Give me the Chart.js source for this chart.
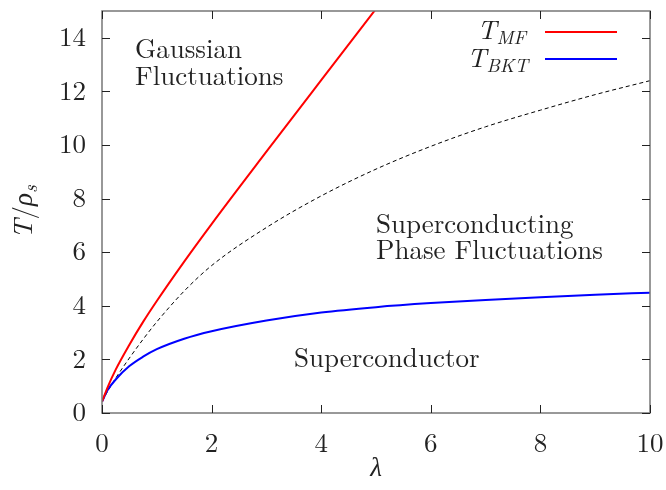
<!DOCTYPE html>
<html>
<head>
<meta charset="utf-8">
<script src="https://cdn.jsdelivr.net/npm/chart.js@4/dist/chart.umd.min.js"></script>
<style>
  html, body { margin: 0; padding: 0; background: #fff; }
  #wrap { width: 666px; height: 490px; }
</style>
</head>
<body>
<div id="wrap"><canvas id="chart" width="666" height="490"></canvas></div>
<script>
// values
const lambdaVals = [0, 0.1, 0.25, 0.5, 0.75, 1, 1.5, 2, 3, 4, 5, 6, 7, 8, 9, 10];
const tMF = [0.42, 0.95, 1.62, 2.55, 3.40, 4.18, 5.65, 7.05, 9.75, 12.42, 15.08, null, null, null, null, null];
const tBKT = [0.42, 0.85, 1.25, 1.75, 2.10, 2.38, 2.77, 3.05, 3.45, 3.75, 3.95, 4.10, 4.22, 4.32, 4.41, 4.49];
const tCross = [0.42, 0.80, 1.30, 2.05, 2.75, 3.40, 4.55, 5.50, 6.92, 8.10, 9.10, 9.95, 10.68, 11.30, 11.88, 12.40];
const xTicks = [0, 2, 4, 6, 8, 10];
const yTicks = [0, 2, 4, 6, 8, 10, 12, 14];

const SERIF = '"Latin Modern Roman", "Liberation Serif", serif';

const pts = ys => lambdaVals.map((x, i) => ({ x: x, y: ys[i] }));

// text with italic / subscript pieces
function drawRich(ctx, parts, x, y, align) {
  let total = 0;
  parts.forEach(p => { ctx.font = p.font; total += ctx.measureText(p.t).width; });
  let cx = align === 'right' ? x - total : align === 'center' ? x - total / 2 : x;
  parts.forEach(p => {
    ctx.font = p.font;
    ctx.fillText(p.t, cx, y + (p.dy || 0));
    cx += ctx.measureText(p.t).width;
  });
}

const decor = {
  id: 'decor',
  afterDatasetsDraw(chart) {
    const { ctx, chartArea: a, scales } = chart;
    ctx.save();
    // frame
    ctx.strokeStyle = '#777';
    ctx.lineWidth = 1.5;
    ctx.strokeRect(a.left, a.top, a.right - a.left, a.bottom - a.top);
    // inward ticks
    ctx.strokeStyle = '#222';
    ctx.lineWidth = 1;
    ctx.beginPath();
    xTicks.forEach(v => {
      const px = Math.round(scales.x.getPixelForValue(v)) + 0.5;
      ctx.moveTo(px, a.bottom); ctx.lineTo(px, a.bottom - 8);
      ctx.moveTo(px, a.top); ctx.lineTo(px, a.top + 8);
    });
    yTicks.forEach(v => {
      const py = Math.round(scales.y.getPixelForValue(v)) + 0.5;
      ctx.moveTo(a.left, py); ctx.lineTo(a.left + 8, py);
      ctx.moveTo(a.right, py); ctx.lineTo(a.right - 8, py);
    });
    ctx.stroke();

    ctx.fillStyle = '#222';
    ctx.textBaseline = 'alphabetic';
    ctx.textAlign = 'left';
    const f = '27px ' + SERIF;
    const it = 'italic 27px ' + SERIF;
    const sub = 'italic 19px ' + SERIF;

    // region labels
    ctx.font = f;
    ctx.fillText('Gaussian', 135, 58);
    ctx.fillText('Fluctuations', 135, 85);
    ctx.fillText('Superconducting', 376, 233);
    ctx.fillText('Phase Fluctuations', 376, 259);
    ctx.fillText('Superconductor', 294, 367);

    // legend
    drawRich(ctx, [{ t: 'T', font: it }, { t: 'MF', font: sub, dy: 5 }], 526, 39, 'right');
    drawRich(ctx, [{ t: 'T', font: it }, { t: 'BKT', font: sub, dy: 5 }], 528, 67, 'right');
    ctx.lineWidth = 2;
    ctx.strokeStyle = '#ff0000';
    ctx.beginPath(); ctx.moveTo(545, 32); ctx.lineTo(617, 32); ctx.stroke();
    ctx.strokeStyle = '#0000ff';
    ctx.beginPath(); ctx.moveTo(545, 59); ctx.lineTo(617, 59); ctx.stroke();

    // axis titles
    drawRich(ctx, [{ t: 'λ', font: it }], (a.left + a.right) / 2, 476, 'center');
    ctx.translate(32, (a.top + a.bottom) / 2);
    ctx.rotate(-Math.PI / 2);
    drawRich(ctx, [
      { t: 'T', font: it }, { t: '/', font: f }, { t: 'ρ', font: it }, { t: 's', font: sub, dy: 5 }
    ], 0, 0, 'center');
    ctx.restore();
  }
};

Chart.defaults.font.family = SERIF;
Chart.defaults.color = '#222';

const noPad = s => { s.paddingTop = 0; s.paddingBottom = 0; s.paddingLeft = 0; s.paddingRight = 0; };

new Chart(document.getElementById('chart').getContext('2d'), {
  type: 'line',
  data: {
    datasets: [
      { label: 'T_MF', data: pts(tMF), borderColor: '#ff0000', borderWidth: 2, pointRadius: 0,
        cubicInterpolationMode: 'monotone', fill: false },
      { label: 'T_BKT', data: pts(tBKT), borderColor: '#0000ff', borderWidth: 2, pointRadius: 0,
        cubicInterpolationMode: 'monotone', fill: false },
      { label: 'crossover', data: pts(tCross), borderColor: '#000', borderWidth: 1, borderDash: [4, 3],
        pointRadius: 0, cubicInterpolationMode: 'monotone', fill: false }
    ]
  },
  options: {
    responsive: false,
    animation: false,
    layout: { padding: { left: 0, right: 16, top: 11, bottom: 0 } },
    plugins: { legend: { display: false }, tooltip: { enabled: false } },
    scales: {
      x: {
        type: 'linear', min: 0, max: 10,
        afterBuildTicks: s => { s.ticks = xTicks.map(v => ({ value: v })); },
        afterFit: s => { s.height = 77; noPad(s); },
        grid: { display: false, drawTicks: false },
        border: { display: false },
        ticks: { font: { size: 27 }, padding: 15, maxRotation: 0 }
      },
      y: {
        type: 'linear', min: 0, max: 15,
        afterBuildTicks: s => { s.ticks = yTicks.map(v => ({ value: v })); },
        afterFit: s => { s.width = 102; noPad(s); },
        grid: { display: false, drawTicks: false },
        border: { display: false },
        ticks: { font: { size: 27 }, padding: 16 }
      }
    }
  },
  plugins: [decor]
});
</script>
</body>
</html>
